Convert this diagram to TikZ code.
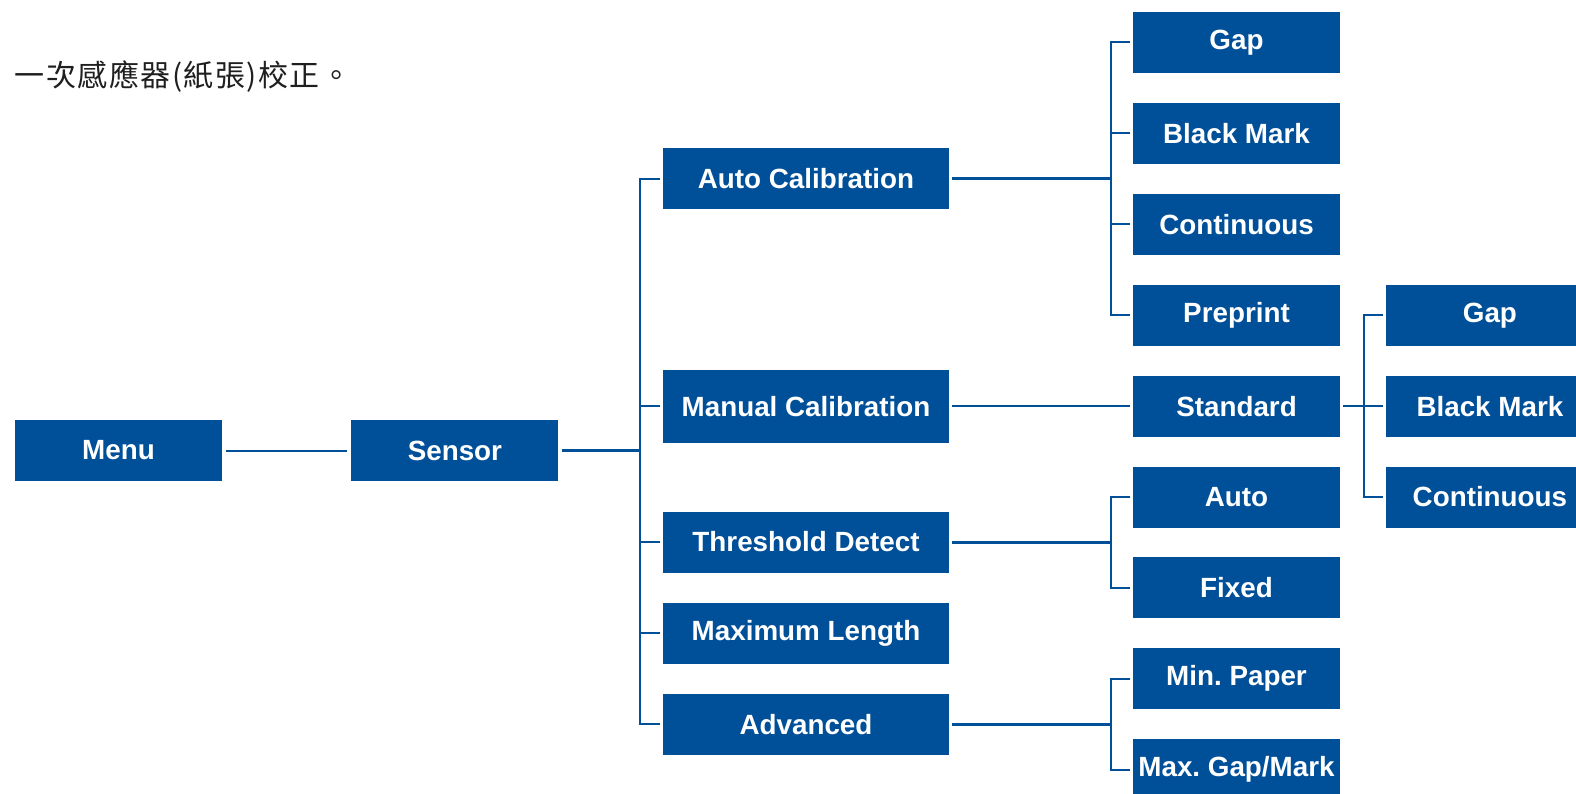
\documentclass[tikz,border=0pt]{standalone}
\usepackage{fontspec}
\setmainfont{Liberation Sans}
\newfontfamily\cjk[LetterSpace=5]{Noto Sans CJK TC}
\usetikzlibrary{positioning}
\definecolor{menublue}{RGB}{0,79,153}
\frenchspacing

\begin{document}
\begin{tikzpicture}[
  x=1pt, y=-1pt,
  box/.style={fill=menublue, text=white, inner sep=0pt, minimum height=61pt,
              minimum width=207pt, font=\fontsize{27.8}{30}\selectfont\bfseries},
  widebox/.style={box, minimum width=286pt},
  link/.style={draw=menublue, line width=2pt},
  trunk/.style={draw=menublue, line width=3pt},
  note/.style={anchor=west, text=black!88, font=\cjk\fontsize{30}{33}\selectfont},
]
\path[use as bounding box, fill=white] (0,0) rectangle (1576,794);

\node[note] (title) at (11,77) {一次感應器(紙張)校正。};

%% ---------- root ----------
\node[box] (menu) at (118.5,450.5) {Menu};
\node[box, right=129pt of menu] (sensor) {Sensor};

%% ---------- third column ----------
\node[box] (gap3) at (1236.5,42.5) {Gap};
\node[box, below=29.5pt of gap3] (blackmark3) {Black Mark};
\node[box, below=29.5pt of blackmark3] (continuous3) {Continuous};
\node[box, below=29.5pt of continuous3] (preprint3) {Preprint};
\node[box, below=29.5pt of preprint3] (standard3) {Standard};
\node[box, below=29.5pt of standard3] (auto3) {Auto};
\node[box, below=29.5pt of auto3] (fixed3) {Fixed};
\node[box, below=29.5pt of fixed3] (minpaper3) {Min. Paper};
\node[box, below=29.5pt of minpaper3] (maxgap3) {Max. Gap/Mark};

%% ---------- second column ----------
\node[widebox] (autocal) at (806,179) {Auto Calibration};
\node[widebox, minimum height=73pt] (manual) at (autocal |- standard3) {Manual Calibration};
\node[widebox, below=68.5pt of manual] (threshold) {Threshold Detect};
\node[widebox, below=30pt of threshold] (maxlen) {Maximum Length};
\node[widebox, below=29.5pt of maxlen] (advanced) {Advanced};

%% ---------- fourth column ----------
\node[box, right=46pt of preprint3] (gap4) {Gap};
\node[box, right=46pt of standard3] (blackmark4) {Black Mark};
\node[box, right=46pt of auto3] (continuous4) {Continuous};

% bus lines
\coordinate (bus1) at (640,0);
\coordinate (bus2) at (1111,0);
\coordinate (bus3) at (1364,0);

\draw[link, shorten <=4pt, shorten >=4pt] (menu) -- (sensor);
\draw[trunk, shorten <=3pt] (sensor.east) -- (sensor.east -| bus1);
\draw[link, shorten >=3pt] (advanced.west -| bus1) |- (autocal.west);
\draw[link, shorten >=3pt] (autocal.west -| bus1) |- (advanced.west);
\foreach \n in {manual,threshold,maxlen}
  \draw[link, shorten >=3pt] (\n.west -| bus1) -- (\n.west);

% auto calibration
\draw[trunk, shorten <=3pt] (autocal.east) -- (autocal.east -| bus2);
\draw[link, shorten >=3pt] (preprint3.west -| bus2) |- (gap3.west);
\draw[link, shorten >=3pt] (gap3.west -| bus2) |- (preprint3.west);
\foreach \n in {blackmark3,continuous3}
  \draw[link, shorten >=3pt] (\n.west -| bus2) -- (\n.west);

% manual calibration
\draw[link, line width=2.4pt, shorten <=3pt, shorten >=3pt] (manual) -- (standard3);
\draw[link, line width=2.4pt, shorten <=3pt, shorten >=3pt] (standard3) -- (blackmark4);
\draw[link, shorten >=3pt] (continuous4.west -| bus3) |- (gap4.west);
\draw[link, shorten >=3pt] (gap4.west -| bus3) |- (continuous4.west);

% threshold detect
\draw[trunk, shorten <=3pt] (threshold.east) -- (threshold.east -| bus2);
\draw[link, shorten >=3pt] (fixed3.west -| bus2) |- (auto3.west);
\draw[link, shorten >=3pt] (auto3.west -| bus2) |- (fixed3.west);

% advanced
\draw[trunk, shorten <=3pt] (advanced.east) -- (advanced.east -| bus2);
\draw[link, shorten >=3pt] (maxgap3.west -| bus2) |- (minpaper3.west);
\draw[link, shorten >=3pt] (minpaper3.west -| bus2) |- (maxgap3.west);

\end{tikzpicture}
\end{document}
